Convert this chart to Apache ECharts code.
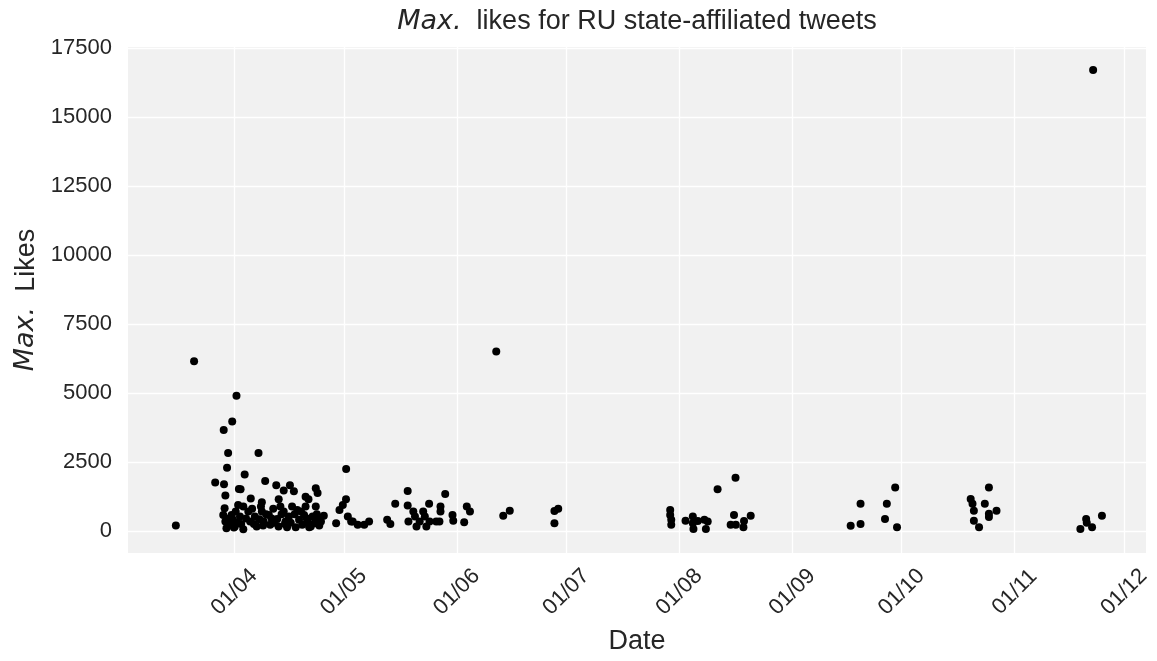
<!DOCTYPE html>
<html>
<head>
<meta charset="utf-8">
<script src="https://cdn.jsdelivr.net/npm/echarts@6/dist/echarts.min.js"></script>
<style>
  html, body { margin: 0; padding: 0; background: #fff; }
  #chart { width: 1157px; height: 661px; }
</style>
</head>
<body>
<div id="chart"></div>
<script>
// tweet time (local) and max likes
const dates = [
  '2022-03-15 22', '2022-03-20 22', '2022-03-26 17', '2022-03-28 22', '2022-03-29 01', '2022-03-29 03',
  '2022-03-29 07', '2022-03-29 12', '2022-03-29 12', '2022-03-29 19', '2022-03-29 23', '2022-03-30 06',
  '2022-03-30 10', '2022-03-30 17', '2022-03-31 05', '2022-03-31 09', '2022-03-31 14', '2022-03-31 20',
  '2022-04-01 02', '2022-04-01 08', '2022-04-01 13', '2022-04-01 18', '2022-04-02 00', '2022-04-02 05',
  '2022-04-02 12', '2022-04-02 16', '2022-04-02 20', '2022-04-03 10', '2022-04-03 10', '2022-04-03 19',
  '2022-04-04 04', '2022-04-04 19', '2022-04-05 07', '2022-04-05 11', '2022-04-05 20', '2022-04-06 08',
  '2022-04-06 14', '2022-04-07 02', '2022-04-07 14', '2022-04-07 20', '2022-04-08 06', '2022-04-08 12',
  '2022-04-08 12', '2022-04-08 20', '2022-04-09 00', '2022-04-09 10', '2022-04-09 16', '2022-04-10 10',
  '2022-04-10 19', '2022-04-11 04', '2022-04-11 15', '2022-04-11 22', '2022-04-12 11', '2022-04-12 17',
  '2022-04-13 02', '2022-04-13 03', '2022-04-13 14', '2022-04-13 22', '2022-04-14 12', '2022-04-14 12',
  '2022-04-14 20', '2022-04-15 00', '2022-04-15 10', '2022-04-15 22', '2022-04-16 05', '2022-04-16 10',
  '2022-04-16 19', '2022-04-17 07', '2022-04-17 12', '2022-04-17 19', '2022-04-18 05', '2022-04-18 17',
  '2022-04-19 06', '2022-04-19 14', '2022-04-20 02', '2022-04-20 12', '2022-04-20 12', '2022-04-20 20',
  '2022-04-21 00', '2022-04-21 07', '2022-04-21 12', '2022-04-21 22', '2022-04-22 10', '2022-04-22 22',
  '2022-04-23 07', '2022-04-23 07', '2022-04-23 14', '2022-04-23 19', '2022-04-23 19', '2022-04-24 06',
  '2022-04-24 17', '2022-04-25 12', '2022-04-28 21', '2022-04-29 19', '2022-04-30 17', '2022-05-01 14',
  '2022-05-01 15', '2022-05-02 02', '2022-05-03 00', '2022-05-03 10', '2022-05-04 19', '2022-05-06 14',
  '2022-05-07 22', '2022-05-12 21', '2022-05-13 18', '2022-05-15 02', '2022-05-18 12', '2022-05-18 12',
  '2022-05-18 17', '2022-05-20 01', '2022-05-20 12', '2022-05-20 22', '2022-05-21 19', '2022-05-22 18',
  '2022-05-23 05', '2022-05-23 15', '2022-05-24 12', '2022-05-24 09', '2022-05-26 08', '2022-05-27 05',
  '2022-05-27 12', '2022-05-27 12', '2022-05-28 19', '2022-05-30 19', '2022-05-31 00', '2022-06-03 00',
  '2022-06-03 17', '2022-06-04 14', '2022-06-11 19', '2022-06-13 17', '2022-06-15 12', '2022-06-27 18',
  '2022-06-27 18', '2022-06-28 19', '2022-07-29 12', '2022-07-29 12', '2022-07-29 19', '2022-07-29 19',
  '2022-08-02 17', '2022-08-04 17', '2022-08-04 17', '2022-08-04 21', '2022-08-06 02', '2022-08-07 21',
  '2022-08-08 07', '2022-08-08 19', '2022-08-11 12', '2022-08-15 02', '2022-08-16 00', '2022-08-16 12',
  '2022-08-16 10', '2022-08-18 14', '2022-08-18 18', '2022-08-20 14', '2022-09-17 00', '2022-09-19 17',
  '2022-09-19 17', '2022-09-26 10', '2022-09-26 22', '2022-09-29 05', '2022-09-29 17', '2022-10-19 22',
  '2022-10-20 10', '2022-10-20 19', '2022-10-20 19', '2022-10-22 05', '2022-10-23 19', '2022-10-24 22',
  '2022-10-24 22', '2022-10-24 22', '2022-10-27 00', '2022-11-19 00', '2022-11-20 14', '2022-11-20 18',
  '2022-11-22 05', '2022-11-22 12', '2022-11-24 22'
];
const likes = [
  200, 6150, 1750, 580, 3660, 1690,
  820, 1280, 340, 100, 2290, 2820,
  450, 220, 580, 3960, 400, 120,
  160, 700, 4900, 300, 940, 1520,
  520, 1510, 250, 880, 60, 2040,
  450, 700, 340, 1170, 800, 250,
  520, 160, 2820, 420, 880, 1040,
  700, 200, 340, 1810, 600, 580,
  220, 450, 800, 300, 1650, 430,
  160, 1150, 880, 600, 1460, 700,
  250, 340, 130, 520, 1650, 300,
  880, 1440, 600, 130, 760, 400,
  700, 220, 580, 1240, 880, 450,
  340, 1150, 130, 160, 520, 280,
  1550, 880, 600, 1370, 400, 200,
  340, 550, 280, 760, 940, 1150,
  2240, 520, 340, 340, 220, 220,
  340, 400, 250, 980, 1450, 920,
  340, 700, 520, 160, 340, 700,
  520, 160, 340, 980, 340, 340,
  880, 700, 1340, 580, 370, 310,
  880, 700, 6500, 550, 730, 280,
  720, 800, 760, 580, 400, 220,
  370, 520, 280, 70, 360, 400,
  70, 340, 1510, 220, 580, 220,
  1930, 130, 360, 550, 190, 250,
  980, 430, 980, 1570, 130, 1160,
  980, 730, 370, 130, 980, 1570,
  620, 500, 730, 70, 430, 300,
  130, 16700, 550
];

const monthTicks = ['2022-04-01', '2022-05-01', '2022-06-01', '2022-07-01', '2022-08-01',
  '2022-09-01', '2022-10-01', '2022-11-01', '2022-12-01'];
const yTicks = [0, 2500, 5000, 7500, 10000, 12500, 15000, 17500];

const t = s => echarts.number.parseDate(s).getTime();
const pad = n => (n < 10 ? '0' : '') + n;

const textColor = '#262626';
const font = 'Liberation Sans, Arial, sans-serif';

const chart = echarts.init(document.getElementById('chart'));

chart.setOption({
  animation: false,
  backgroundColor: '#ffffff',
  title: {
    text: '{i|Max.}  likes for RU state-affiliated tweets',
    left: 637,
    top: 8,
    padding: 0,
    textAlign: 'center',
    textStyle: {
      fontSize: 27,
      fontWeight: 'normal',
      color: textColor,
      fontFamily: font,
      rich: {
        i: { fontStyle: 'italic', fontFamily: 'DejaVu Sans', fontSize: 27, color: textColor }
      }
    }
  },
  grid: {
    left: 128,
    right: 11,
    top: 47,
    bottom: 108,
    show: true,
    backgroundColor: '#f1f1f1',
    borderWidth: 0
  },
  xAxis: {
    // timestamps on a plain value scale, labels only at month starts
    type: 'value',
    min: t('2022-03-02 19'),
    max: t('2022-12-07 00'),
    axisLine: { show: false },
    axisTick: { show: false },
    splitLine: { show: false },
    axisLabel: {
      customValues: monthTicks.map(t),
      formatter: function (v) {
        const d = new Date(v);
        return pad(d.getDate()) + '/' + pad(d.getMonth() + 1);
      },
      rotate: 45,
      align: 'center',
      verticalAlign: 'middle',
      margin: 39,
      fontSize: 22,
      color: textColor,
      fontFamily: font
    },
    name: 'Date',
    nameLocation: 'middle',
    nameGap: 75,
    nameTextStyle: { fontSize: 27, color: textColor, fontFamily: font }
  },
  yAxis: {
    type: 'value',
    min: -800,
    max: 17530,
    axisLine: { show: false },
    axisTick: { show: false },
    splitLine: { show: false },
    axisLabel: {
      customValues: yTicks,
      formatter: v => String(v),
      margin: 16,
      fontSize: 22,
      color: textColor,
      fontFamily: font
    },
    name: '{i|Max.}  Likes',
    nameLocation: 'middle',
    nameRotate: 90,
    nameGap: 79,
    nameTextStyle: {
      fontSize: 27,
      color: textColor,
      fontFamily: font,
      rich: {
        i: { fontStyle: 'italic', fontFamily: 'DejaVu Sans', fontSize: 27, color: textColor }
      }
    }
  },
  series: [
    {
      // white grid lines at the tick positions, kept under the points
      type: 'line',
      data: [],
      z: 1,
      silent: true,
      markLine: {
        silent: true,
        z: 1,
        symbol: 'none',
        label: { show: false },
        lineStyle: { color: '#ffffff', width: 1.3, type: 'solid' },
        data: monthTicks.map(m => ({ xAxis: t(m) })).concat(yTicks.map(v => ({ yAxis: v })))
      }
    },
    {
      type: 'scatter',
      z: 10,
      symbolSize: 8,
      itemStyle: { color: '#000000', opacity: 1 },
      data: dates.map((d, i) => [t(d), likes[i]])
    }
  ]
});
</script>
</body>
</html>
